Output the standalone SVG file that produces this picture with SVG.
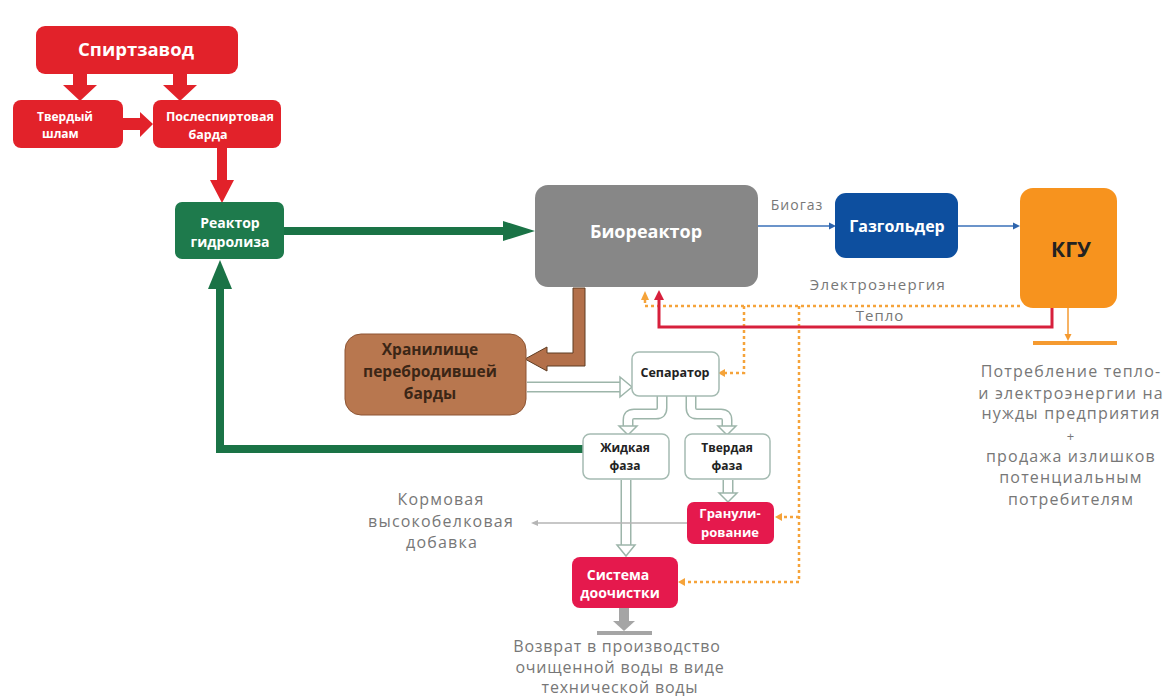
<svg xmlns="http://www.w3.org/2000/svg" width="1166" height="698" viewBox="0 0 1166 698">
<style>
.nt{font-family:"Open Sans","Liberation Sans",sans-serif;font-weight:700;text-anchor:middle}
.w{fill:#ffffff}
.dk{fill:#222222}
.lbl{font-family:"Open Sans","Liberation Sans",sans-serif;fill:#777777;text-anchor:middle;letter-spacing:1px}
.big{font-size:16px;letter-spacing:1.2px}
.red{fill:#e2222a}
.crim{fill:#e5194d}
.hol{fill:none;stroke:#9db5aa;stroke-width:11}
.holi{fill:none;stroke:#ffffff;stroke-width:8}
.holh{fill:#ffffff;stroke:#9db5aa;stroke-width:1.5}
.dash{fill:none;stroke:#f5a33a;stroke-width:2.5;stroke-dasharray:3 3}
.oh{fill:#f5a33a}
.box{fill:#ffffff;stroke:#a5bbb2;stroke-width:1.5}
</style>
<rect width="1166" height="698" fill="#ffffff"/>

<g id="connectors">
  <!-- red arrows top -->
  <polygon class="red" points="73,72 87,72 87,85 97,85 80,101 63,85 73,85"/>
  <polygon class="red" points="173,72 187,72 187,85 197,85 180,101 163,85 173,85"/>
  <polygon class="red" points="123,118 140,118 140,112 153,124 140,137 140,130 123,130"/>
  <polygon class="red" points="217,146 227,146 227,180 234,180 222,203 210,180 217,180"/>
  <!-- green main -->
  <polygon fill="#1a7346" points="283,227 503,227 503,221 535,231 503,241 503,235 283,235"/>
  <!-- green return -->
  <path d="M584 449 H220 V286" fill="none" stroke="#1a7346" stroke-width="8"/>
  <polygon fill="#1a7346" points="208,289 220,260 232,289"/>
  <!-- blue biogas -->
  <path d="M758 226 H830" fill="none" stroke="#3a70b8" stroke-width="1.5"/>
  <polygon fill="#2d64ad" points="829,222.5 836,226 829,229.5"/>
  <path d="M958 226 H1014" fill="none" stroke="#3a70b8" stroke-width="1.5"/>
  <polygon fill="#2d64ad" points="1013,222.5 1020,226 1013,229.5"/>
  <!-- orange dashed electricity -->
  <path class="dash" d="M1020 306 H645 V298"/>
  <polygon class="oh" points="641,300 645,291 649,300"/>
  <path class="dash" d="M744 306 V373 H725"/>
  <polygon class="oh" points="725,369 718,373 725,377"/>
  <path class="dash" d="M799 306 V582 H685"/>
  <polygon class="oh" points="685,578 678,582 685,586"/>
  <path class="dash" d="M799 517 H782"/>
  <polygon class="oh" points="782,513 775,517 782,521"/>
  <!-- red heat -->
  <path d="M1052 307 V327 H659 V299" fill="none" stroke="#d7203c" stroke-width="3"/>
  <polygon fill="#d7203c" points="654,300 659,290 664,300"/>
  <!-- KGU output -->
  <path d="M1068 308 V336" fill="none" stroke="#f59a30" stroke-width="1.5"/>
  <polygon fill="#f59a30" points="1064.5,334 1068,341 1071.5,334"/>
  <rect x="1033" y="341" width="84" height="4" fill="#f59a30"/>
  <!-- brown -->
  <polygon fill="#b3704a" stroke="#5e3c22" stroke-width="1" points="573,288 585,288 585,366 547,366 547,371 525,359 547,347 547,353 573,353"/>
  <!-- hollow arrows -->
  <path class="hol" d="M527 387 H621"/>
  <path class="holi" d="M527 387 H622"/>
  <polygon class="holh" points="620,377 632,387 620,397"/>
  <path class="hol" d="M662 396 V408 Q662 414 656 414 H634 Q628 414 628 420 V427"/>
  <path class="holi" d="M662 396 V408 Q662 414 656 414 H634 Q628 414 628 420 V428"/>
  <polygon class="holh" points="619,426 628,435 637,426"/>
  <path class="hol" d="M691 396 V408 Q691 414 697 414 H721 Q727 414 727 420 V427"/>
  <path class="holi" d="M691 396 V408 Q691 414 697 414 H721 Q727 414 727 420 V428"/>
  <polygon class="holh" points="718,426 727,435 736,426"/>
  <path class="hol" d="M626 480 V546"/>
  <path class="holi" d="M626 479 V547"/>
  <polygon class="holh" points="617,545 626,556 635,545"/>
  <path class="hol" d="M728 480 V494"/>
  <path class="holi" d="M728 479 V495"/>
  <polygon class="holh" points="719,493 728,502 737,493"/>
  <!-- feed protein -->
  <path d="M687 523 H537" fill="none" stroke="#b5b5b5" stroke-width="1.5"/>
  <polygon fill="#b5b5b5" points="538,520 531,523 538,526"/>
  <!-- water return -->
  <rect x="619" y="608" width="10" height="16" fill="#a5a5a5"/>
  <polygon fill="#a5a5a5" points="613,621 624,631 635,621"/>
  <rect x="597" y="631" width="55" height="4" fill="#a5a5a5"/>
</g>

<g id="spirtzavod">
  <rect class="red" x="36" y="26" width="202" height="48" rx="9"/>
  <text class="nt w" x="136" y="56" font-size="18.5">Спиртзавод</text>
</g>
<g id="tverdy-shlam">
  <rect class="red" x="13" y="100" width="110" height="48" rx="8"/>
  <text class="nt w" x="37" y="121" font-size="12" style="text-anchor:start">Твердый</text>
  <text class="nt w" x="42" y="138" font-size="12" style="text-anchor:start">шлам</text>
</g>
<g id="poslespirtovaya-barda">
  <rect class="red" x="153" y="100" width="128" height="48" rx="8"/>
  <text class="nt w" x="220" y="121" font-size="12.5">Послеспиртовая</text>
  <text class="nt w" x="208" y="139" font-size="12.5">барда</text>
</g>
<g id="reaktor-gidroliza">
  <rect fill="#1e7a4c" x="175" y="202" width="109" height="57" rx="7"/>
  <text class="nt w" x="230" y="228" font-size="14">Реактор</text>
  <text class="nt w" x="230" y="247" font-size="14">гидролиза</text>
</g>
<g id="bioreaktor">
  <rect fill="#878787" x="535" y="185" width="223" height="102" rx="13"/>
  <text class="nt w" x="646" y="238" font-size="18">Биореактор</text>
</g>
<g id="gazgolder">
  <rect fill="#0d4f9f" x="835" y="193" width="123" height="65" rx="11"/>
  <text class="nt w" x="897" y="232" font-size="16">Газгольдер</text>
</g>
<g id="kgu">
  <rect fill="#f7931e" x="1020" y="188" width="97" height="120" rx="13"/>
  <text class="nt dk" x="1071" y="257" font-size="21">КГУ</text>
</g>
<g id="khranilishche">
  <rect fill="#b8774f" stroke="#8d5534" stroke-width="1" x="345" y="334" width="181" height="81" rx="16"/>
  <text class="nt" fill="#3b2616" x="430" y="355" font-size="15.5">Хранилище</text>
  <text class="nt" fill="#3b2616" x="430" y="377" font-size="15.5">перебродившей</text>
  <text class="nt" fill="#3b2616" x="430" y="399" font-size="15.5">барды</text>
</g>
<g id="separator">
  <rect class="box" x="632" y="352" width="87" height="44" rx="7"/>
  <text class="nt dk" x="675" y="377" font-size="12.5">Сепаратор</text>
</g>
<g id="zhidkaya-faza">
  <rect class="box" x="583" y="434" width="86" height="45" rx="7"/>
  <text class="nt dk" x="625" y="452" font-size="12">Жидкая</text>
  <text class="nt dk" x="625" y="470" font-size="12">фаза</text>
</g>
<g id="tverdaya-faza">
  <rect class="box" x="685" y="434" width="85" height="45" rx="7"/>
  <text class="nt dk" x="727" y="452" font-size="12">Твердая</text>
  <text class="nt dk" x="727" y="470" font-size="12">фаза</text>
</g>
<g id="granulirovanie">
  <rect class="crim" x="687" y="502" width="87" height="42" rx="7"/>
  <text class="nt w" x="730" y="518" font-size="13" font-weight="600">Гранули-</text>
  <text class="nt w" x="730" y="537" font-size="13" font-weight="600">рование</text>
</g>
<g id="sistema-doochistki">
  <rect class="crim" x="572" y="557" width="106" height="51" rx="8"/>
  <text class="nt w" x="618" y="580" font-size="14" font-weight="600">Система</text>
  <text class="nt w" x="620" y="598" font-size="14" font-weight="600">доочистки</text>
</g>

<g id="labels">
  <text class="lbl" x="797" y="210" font-size="14">Биогаз</text>
  <text class="lbl" x="878" y="290" font-size="15" style="letter-spacing:1.3px">Электроэнергия</text>
  <text class="lbl" x="880" y="321" font-size="15">Тепло</text>
  <text class="lbl big" x="1071" y="377">Потребление тепло-</text>
  <text class="lbl big" x="1071" y="399">и электроэнергии на</text>
  <text class="lbl big" x="1071" y="419">нужды предприятия</text>
  <text class="lbl" x="1071" y="441" font-size="13">+</text>
  <text class="lbl big" x="1071" y="462">продажа излишков</text>
  <text class="lbl big" x="1071" y="483">потенциальным</text>
  <text class="lbl big" x="1071" y="505">потребителям</text>
  <text class="lbl big" x="441" y="505">Кормовая</text>
  <text class="lbl big" x="441" y="527">высокобелковая</text>
  <text class="lbl big" x="442" y="548">добавка</text>
  <text class="lbl" x="617" y="652" font-size="16" style="letter-spacing:0.8px">Возврат в производство</text>
  <text class="lbl" x="620" y="673" font-size="16" style="letter-spacing:0.8px">очищенной воды в виде</text>
  <text class="lbl" x="620" y="693" font-size="16" style="letter-spacing:0.8px">технической воды</text>
</g>
</svg>
